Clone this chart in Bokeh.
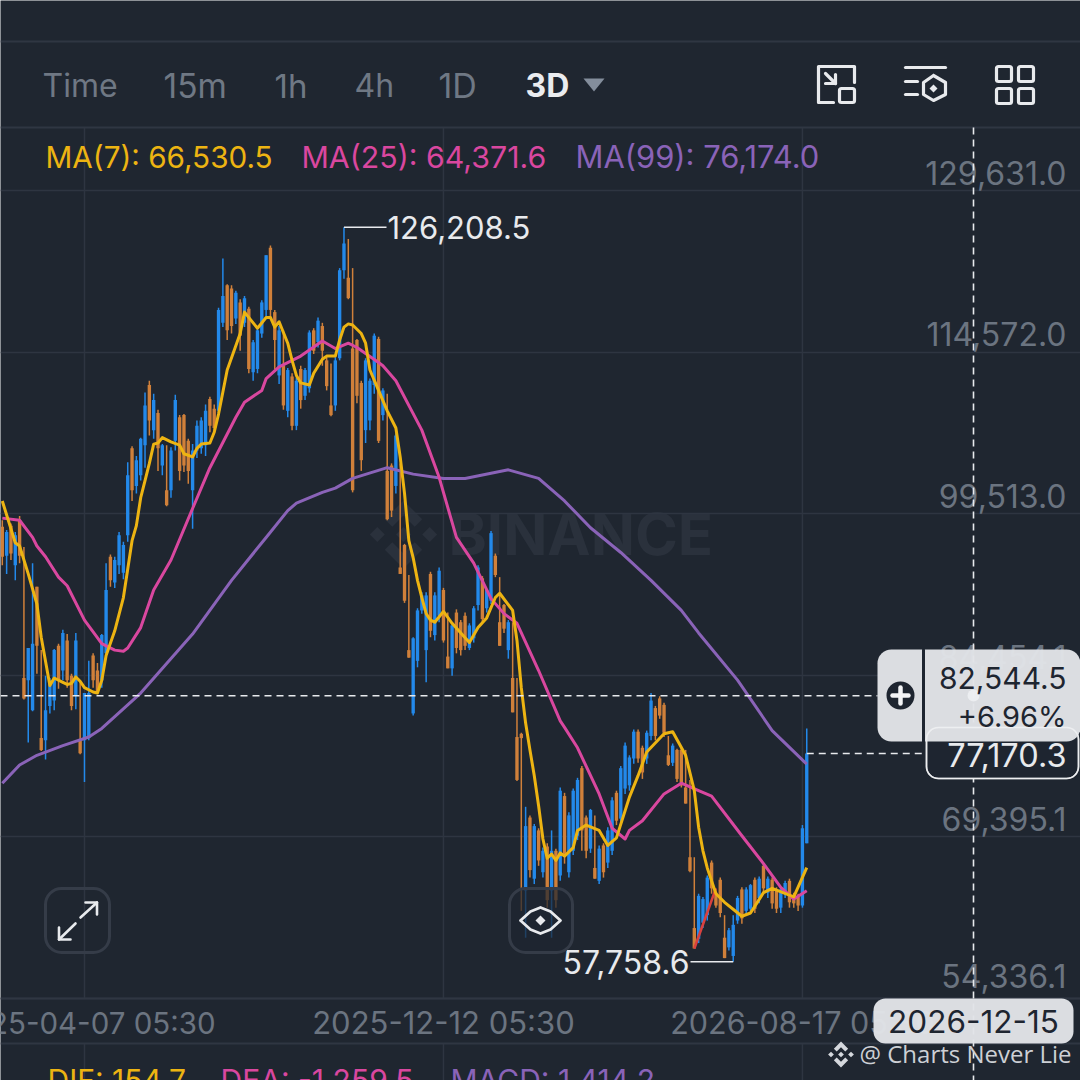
from bokeh.plotting import figure
from bokeh.models import Range1d, FixedTicker, Span, BoxAnnotation
from bokeh.core.properties import value
from bokeh.embed import file_html
from bokeh.resources import INLINE

# ---- chart data (prices in thousands) ----
candle_open = [98.3,95.6,98.4,94.7,98.9,84.2,84.0,81.2,92.7,78.6,
78.4,81.6,82.1,87.2,84.9,87.7,84.4,82.6,78.4,78.4,
78.6,86.3,84.9,84.0,86.5,95.5,93.1,94.7,94.0,97.5,
105.6,102.1,103.1,105.9,111.5,107.3,108.9,104.0,101.7,101.7,
106.3,108.5,108.7,106.3,101.7,105.4,105.6,105.9,110.2,109.3,
109.1,117.3,120.8,120.5,117.7,119.2,117.3,118.6,112.7,113.0,
116.3,118.5,124.3,118.3,112.4,113.3,109.1,112.3,107.7,113.0,
110.5,111.2,116.6,115.5,117.0,113.8,109.6,109.6,114.0,122.2,
121.5,114.9,115.7,111.7,107.3,108.2,111.5,115.8,108.7,103.5,
104.0,102.1,94.5,96.6,86.8,80.9,85.8,90.5,86.8,93.9,
88.2,90.0,92.4,86.2,85.1,90.3,89.4,90.0,87.0,87.9,
91.0,93.5,90.7,91.4,95.6,89.4,91.0,86.8,84.2,78.7,
79.0,64.4,71.2,65.5,70.0,66.1,68.5,64.4,68.1,65.8,
73.2,66.1,68.1,69.5,75.8,71.2,68.3,66.5,65.3,68.6,
67.0,68.1,73.5,71.1,73.9,74.2,76.7,79.2,77.7,76.7,
78.8,81.4,82.3,81.7,77.0,76.3,77.5,77.5,74.0,67.5,
60.9,59.9,61.4,62.1,67.0,64.2,65.4,60.0,59.1,58.3,
61.6,64.5,62.5,62.7,65.4,63.7,66.7,64.2,65.4,64.5,
62.8,64.1,65.3,64.0,63.9,63.0,68.8]
candle_high = [98.9,98.0,98.6,97.8,99.3,96.4,87.0,94.9,92.7,86.8,
84.4,84.2,86.9,87.4,88.7,88.3,84.6,88.4,84.0,82.8,
85.8,86.5,85.6,88.3,94.9,95.7,95.5,97.8,96.9,104.3,
105.8,104.9,106.6,110.8,111.9,110.7,109.2,106.0,105.9,105.7,
110.6,108.7,108.8,106.5,106.0,108.2,108.5,109.7,110.4,109.7,
118.7,123.3,120.9,120.8,120.3,119.5,119.8,118.8,115.7,116.8,
119.4,123.6,124.5,118.5,117.0,116.6,113.1,112.6,112.2,113.3,
113.1,116.6,116.8,117.8,117.3,114.1,113.5,114.1,122.4,126.2,
125.1,122.4,115.8,111.9,114.0,112.1,116.3,116.0,111.2,110.7,
104.2,107.0,104.2,96.7,93.8,88.0,90.7,92.2,92.2,94.1,
92.2,94.5,92.6,90.3,89.3,90.6,89.6,90.3,89.3,90.9,
94.7,93.7,92.5,97.9,95.8,93.6,91.1,89.6,89.4,84.2,
79.1,72.2,71.4,70.6,70.2,68.4,68.8,70.0,68.3,74.0,
73.5,71.7,73.9,74.9,76.0,71.4,72.0,71.4,68.6,68.8,
70.3,73.1,73.7,76.0,78.2,77.0,79.4,79.4,77.9,79.3,
82.8,81.6,82.5,81.9,78.8,78.1,77.6,77.7,77.5,74.7,
67.5,64.1,63.8,65.8,67.2,64.4,65.6,62.1,60.9,62.1,
63.9,64.7,64.7,65.0,65.6,65.7,66.9,65.7,65.6,64.7,
64.7,65.3,65.5,64.2,64.1,70.5,79.5]
candle_low = [94.7,93.9,95.2,93.3,94.9,82.2,78.2,81.1,84.6,77.4,
76.6,80.9,81.2,83.2,84.0,83.3,81.2,81.3,77.1,74.5,
78.4,83.3,82.8,83.3,86.4,92.7,92.6,93.9,93.4,96.9,
100.7,101.4,102.6,103.8,106.8,106.5,103.5,103.1,100.2,101.0,
105.4,102.6,103.4,102.3,98.1,104.7,105.1,104.9,107.1,107.3,
108.8,116.9,115.7,116.3,117.2,114.7,116.9,112.6,111.9,112.6,
115.9,117.8,117.7,113.0,111.6,109.2,108.5,107.3,107.3,109.3,
110.1,110.8,114.4,115.0,113.3,111.0,108.6,109.1,113.8,121.4,
119.5,101.5,109.8,103.5,106.1,107.3,110.7,106.1,108.2,98.9,
99.2,101.4,93.9,91.2,86.1,80.7,85.2,90.2,83.8,88.0,
87.7,89.4,87.5,85.1,84.4,86.5,86.3,86.8,86.8,87.5,
90.5,89.4,90.3,91.1,93.6,87.2,88.4,86.0,81.0,74.6,
62.5,60.0,65.6,65.0,66.7,65.6,62.8,60.0,62.8,65.3,
66.9,65.6,67.7,69.1,68.1,67.4,67.9,65.5,65.0,65.6,
66.5,67.7,70.5,70.6,73.4,73.7,76.2,76.3,74.8,76.2,
78.4,78.4,80.4,78.7,76.0,76.0,74.5,74.0,72.5,66.1,
59.0,59.5,60.9,61.6,64.1,62.8,61.9,58.1,58.8,57.76,
61.3,61.3,62.1,62.3,62.3,63.2,64.1,63.7,62.7,62.3,
62.3,63.7,62.8,62.8,62.5,62.8,68.8]
candle_close = [95.5,97.8,95.8,97.5,95.6,82.3,87.0,87.4,87.2,77.5,
81.2,84.0,86.8,84.0,88.4,84.0,81.6,87.7,77.2,82.8,
82.8,84.0,83.0,88.2,92.4,93.3,95.2,97.5,96.6,103.1,
101.7,104.5,106.5,109.6,108.2,110.1,105.6,105.9,100.3,105.4,
110.1,103.5,104.0,103.5,105.4,107.7,108.2,109.1,107.7,107.5,
118.5,119.8,116.6,117.0,120.1,116.1,119.6,113.0,115.5,116.6,
119.2,123.6,118.5,115.7,116.6,109.6,112.9,107.7,111.9,110.1,
112.9,116.4,114.7,117.5,114.7,111.4,108.7,113.8,122.2,124.7,
119.6,101.7,110.5,104.5,113.8,111.9,116.1,106.3,111.0,99.0,
99.8,106.8,93.9,91.4,86.1,87.9,90.5,91.9,91.9,88.6,
91.9,94.2,87.7,85.1,89.1,87.0,86.8,87.2,89.1,90.7,
94.5,89.7,92.4,97.7,93.8,87.2,88.8,89.4,81.0,74.7,
78.6,70.4,66.3,70.4,67.2,68.1,63.5,68.1,63.5,73.7,
67.7,71.4,73.7,74.7,70.0,68.1,71.9,65.5,68.3,66.1,
70.0,72.8,70.9,75.8,77.9,76.8,79.2,76.7,75.4,79.1,
82.1,78.8,80.7,79.1,76.1,77.9,74.8,74.2,72.5,66.2,
59.0,63.9,63.6,65.6,64.6,63.0,62.3,58.1,60.7,61.2,
63.7,61.8,64.5,64.9,62.7,65.5,64.6,65.5,63.2,62.7,
64.5,65.1,63.3,63.2,63.0,70.2,77.17]

ma7_k = [0,3,4,6,8,9,11,12,14,15,16,17,18,19,21,22,23,24,26,28,30,31,32,33,34,35,36,37,39,41,42,44,45,46,48,49,50,52,55,56,58,59,61,62,63,64,65,66,67,68,69,71,72,74,75,77,78,79,80,81,83,84,85,87,89,91,92,93,94,95,96,97,98,99,100,102,104,108,110,112,114,115,118,119,120,121,122,123,124,125,126,127,128,129,130,132,133,135,138,140,142,145,147,149,153,155,158,160,161,162,163,165,166,167,171,173,176,178,183,186]
ma7_v = [100.7,96.8,96.5,93.9,91.1,88.0,83.5,84.2,83.8,83.6,83.7,84.3,83.9,83.3,82.9,82.8,84.0,86.3,88.6,91.7,97.0,98.4,101.0,102.6,104.2,106.0,106.1,106.6,106.2,105.9,105.1,104.8,105.6,106.0,106.1,107.1,108.8,112.9,116.3,118.3,117.3,116.8,117.8,117.8,116.9,117.4,116.4,115.4,113.8,112.4,111.7,111.5,112.6,113.9,114.2,114.2,115.7,116.9,117.2,117.1,116.3,115.4,112.9,111.0,109.1,107.5,104.8,101.4,97.0,95.4,93.3,91.7,90.2,89.6,89.4,90.4,89.3,87.5,88.9,89.8,91.7,92.1,90.5,87.7,83.3,80.0,77.5,75.1,72.3,69.2,67.4,67.8,67.2,67.9,67.6,68.4,70.0,70.5,70.0,68.6,69.3,73.1,75.1,77.3,79.0,79.2,77.0,73.7,70.3,68.1,66.5,64.1,63.7,63.3,62.0,62.3,64.2,64.6,63.8,66.53]
ma25_k = [0,4,7,8,10,13,15,19,23,26,28,29,32,35,39,44,48,54,56,60,61,64,69,74,77,80,82,87,88,91,97,101,105,109,113,116,119,124,129,130,133,138,141,144,145,148,153,157,161,164,171,176,180,183,186]
ma25_v = [99.1,98.9,97.3,96.5,95.5,93.6,92.8,89.6,87.4,86.8,86.7,87.0,88.9,92.4,95.2,100.0,103.8,108.5,109.9,111.0,112.1,113.2,114.2,115.6,114.9,115.4,115.0,113.6,113.3,111.9,107.3,102.9,97.3,94.9,91.6,90.2,89.3,84.9,80.2,79.6,77.7,73.4,70.2,69.2,70.0,70.9,73.4,74.4,73.7,73.2,69.5,66.9,64.7,63.6,64.37]
ma99_k = [0,4,8,14,20,23,32,44,53,61,66,68,74,77,81,89,95,102,107,117,124,130,136,143,150,157,161,170,178,186]
ma99_v = [74.4,76.1,77.0,77.9,78.7,79.5,82.8,88.3,93.3,97.3,99.8,100.5,101.5,101.9,102.8,103.8,103.2,102.8,102.8,103.6,102.8,100.7,98.2,95.9,93.3,90.5,88.4,84.0,79.3,76.17]
red_k = [160,165]
red_v = [59.0,64.6]

price_ticks = [129631.0,114572.0,99513.0,84454.1,69395.1,54336.1]
time_k = [19,102,185]
time_labels = ["2025-04-07 05:30","2025-12-12 05:30","2026-08-17 05:30"]
tabs = ["Time","15m","1h","4h","1D"]
tab_px = [42,163,274,354,438]
legend_top = ["MA(7): 66,530.5","MA(25): 64,371.6","MA(99): 76,174.0"]
legend_bottom = ["DIF: 154.7","DEA: -1,259.5","MACD: 1,414.2"]
high_label = "126,208.5"
low_label = "57,758.6"
high_value, high_k = 126208.5, 79
low_value, low_k = 57758.6, 169
cross_price = 82544.5
last_price = 77170.3

# ---- colours ----
BG="#1f2630"; GRID="#2e3541"; SEP="#2f3642"
BLUE="#2389ea"; ORANGE="#d0803a"
YEL="#edb412"; PINK="#d9479f"; PUR="#8a63b8"
AXT="#6b7480"; TAGBG="#e1e3e7"; LIGHT="#e8eaed"; DARK="#1e2530"
FONT=value("Inter")
FS="31px"

# mapping of page pixels to the data ranges (used for the interface furniture)
PX_PER_K=4.325; K0_PX=1.8
P0=147336.0; PER_PX=93.187
def X(px): return (px-K0_PX)/PX_PER_K
def Y(py): return P0-PER_PX*py

p=figure(width=1080,height=1080,output_backend="svg",toolbar_location=None,
         x_range=Range1d(X(0),X(1080)),y_range=Range1d(Y(1080),Y(0)),
         background_fill_color=BG,border_fill_color=BG,min_border=0,outline_line_color=None)
p.xaxis.visible=False; p.yaxis.visible=False
p.xgrid.visible=False
p.ygrid.ticker=FixedTicker(ticks=price_ticks)
p.ygrid.grid_line_color=GRID; p.ygrid.grid_line_width=1.5

for py in (41,127,998,1043):
    p.add_layout(Span(location=Y(py),dimension="width",line_color=SEP,line_width=2,level="underlay"))
p.segment(time_k,[Y(127)]*3,time_k,[Y(998)]*3,line_color=GRID,line_width=1.5,level="underlay")
p.segment(time_k,[Y(1043)]*3,time_k,[Y(1080)]*3,line_color=GRID,line_width=1.5,level="underlay")

def logo(cx,cy,s,color,level):
    shapes=[[(0,-1),(.55,-.45),(.33,-.23),(0,-.56),(-.33,-.23),(-.55,-.45)],
            [(0,1),(.55,.45),(.33,.23),(0,.56),(-.33,.23),(-.55,.45)]]
    for dx in (-.77,0,.77):
        shapes.append([(dx-.22,0),(dx,-.22),(dx+.22,0),(dx,.22)])
    p.patches([[X(cx+a*s) for a,b in sh] for sh in shapes],
              [[Y(cy+b*s) for a,b in sh] for sh in shapes],
              fill_color=color,line_color=None,level=level)

# watermark
logo(403,534,34,"#2a313c","underlay")
p.text([X(448)],[Y(533)],text=["BINANCE"],text_font=FONT,text_font_size="58px",text_font_style="bold",
       text_color="#2a313c",text_baseline="middle",level="underlay")

# candles
ks=list(range(len(candle_open)))
for cond,col in ((lambda o,c:c>=o,BLUE),(lambda o,c:c<o,ORANGE)):
    idx=[i for i in ks if cond(candle_open[i],candle_close[i])]
    p.segment(idx,[candle_high[i]*1000 for i in idx],idx,[candle_low[i]*1000 for i in idx],
              line_color=col,line_width=1.5)
    p.vbar(x=idx,width=0.78,top=[max(candle_open[i],candle_close[i])*1000 for i in idx],
           bottom=[min(candle_open[i],candle_close[i])*1000 for i in idx],fill_color=col,line_color=None)

# moving averages
p.line(ma99_k,[v*1000 for v in ma99_v],line_color=PUR,line_width=3,line_join="round")
p.line(ma25_k,[v*1000 for v in ma25_v],line_color=PINK,line_width=3,line_join="round")
p.line(red_k,[v*1000 for v in red_v],line_color="#d8413f",line_width=2.6)
p.line(ma7_k,[v*1000 for v in ma7_v],line_color=YEL,line_width=3,line_join="round")

# price axis labels (sit above their grid lines)
for v,off in zip(price_ticks,(17,18,18,18,18,22)):
    p.text([X(1066)],[v+PER_PX*off],text=[f"{v:,.1f}"],
       text_font=FONT,text_font_size="32px",text_color=AXT,text_align="right",text_baseline="middle")
# time axis labels
for k,t,s in zip(time_k,time_labels,("29.5px","31px","30.5px")):
    p.text([k],[Y(1022)],text=[t],text_font=FONT,text_font_size=s,text_color=AXT,
       text_align="center",text_baseline="middle")

# high / low marks
p.line([high_k,X(386)],[high_value,high_value],line_color=LIGHT,line_width=1.5)
p.text([X(387)],[high_value],text=[high_label],text_font=FONT,text_font_size=FS,text_color=LIGHT,text_baseline="middle")
p.line([X(690),low_k+0.0],[low_value,low_value],line_color=LIGHT,line_width=1.5)
p.text([X(689)],[low_value],text=[low_label],text_font=FONT,text_font_size="32px",text_color=LIGHT,text_align="right",text_baseline="middle")

# cross-hair & last price lines
p.line([X(0),X(877)],[cross_price,cross_price],line_color=LIGHT,line_width=1.6,line_dash="7 5")
p.line([X(973),X(973)],[Y(127),Y(1080)],line_color=LIGHT,line_width=1.6,line_dash="7 5")
p.line([186,X(926)],[last_price,last_price],line_color=LIGHT,line_width=1.6,line_dash="7 5")

# header
for t,px,s in zip(tabs,tab_px,("32px","33.5px","33px","32px","34px")):
    p.text([X(px)],[Y(85)],text=[t],text_font=FONT,text_font_size=s,text_color="#6f7884",text_baseline="middle")
p.text([X(525)],[Y(85)],text=["3D"],text_font=FONT,text_font_size="32px",text_font_style="bold",text_color="#eaecef",text_baseline="middle")
p.patch([X(583),X(604),X(593.5)],[Y(78),Y(78),Y(91)],fill_color="#848e9c",line_color=None)
for t,px,c,s in zip(legend_top,(45,301,575),(YEL,PINK,PUR),("29.7px","30.3px","30.9px")):
    p.text([X(px)],[Y(156)],text=[t],text_font=FONT,text_font_size=s,text_color=c,text_baseline="middle")
for t,px,c in zip(legend_bottom,(47,220,450),(YEL,PINK,PUR)):
    p.text([X(px)],[Y(1079)],text=[t],text_font=FONT,text_font_size="30px",text_color=c,text_baseline="middle")

# header icons
ICON="#e8eaed"
def stroke(pts,w=3.2,color=ICON,level="glyph"):
    p.line([X(a) for a,b in pts],[Y(b) for a,b in pts],line_color=color,line_width=w,line_join="round",line_cap="round",level=level)
def rbox(l,t,r,b,radius,fill=None,falpha=1.0,line=None,lw=0,lalpha=1.0):
    p.add_layout(BoxAnnotation(left=X(l),right=X(r),top=Y(t),bottom=Y(b),border_radius=radius,
        fill_color=fill,fill_alpha=falpha if fill else 0,line_color=line,line_width=lw,line_alpha=lalpha if line else 0))
stroke([(833,102),(818,102),(818,66),(854,66),(854,82)])
stroke([(825,73),(835,83)]); stroke([(835,74),(835,83),(825,83)])
rbox(839,88,854,102,2,line=ICON,lw=3.2)
stroke([(905,67),(945,67)]); stroke([(905,81),(917,81)]); stroke([(905,94),(917,94)])
stroke([(933,75),(945,82),(945,94),(933,100),(923,94),(923,82),(933,75)])
p.patch([X(929),X(933),X(937),X(933)],[Y(88),Y(84),Y(88),Y(92)],fill_color=ICON,line_color=None)
for l in (996,1018):
    for t in (66,88):
        rbox(l,t,l+15,t+15,2,line=ICON,lw=3.2)

# floating buttons
rbox(45,888,109,952,16,line="#353c48",lw=3)
stroke([(80,917),(96.5,902)],2.6); stroke([(85,902),(96.5,902),(96.5,914)],2.6)
stroke([(75,923),(58.5,939)],2.6); stroke([(58.5,927),(58.5,939),(70,939)],2.6)
rbox(509,888,572,952,16,fill=BG,falpha=0.72,line="#353c48",lw=3)
stroke([(520,920),(530,911),(540,907),(550,911),(560,920),(550,929),(540,933),(530,929),(520,920)],2.8,level="overlay")
p.patch([X(535),X(540),X(545),X(540)],[Y(920),Y(915),Y(920),Y(925)],fill_color=ICON,line_color=None,level="overlay")

# tags
rbox(926,727,1078,778,12,fill=DARK,line="#dfe1e5",lw=1.6)
rbox(877,649,1080,741,14,fill=TAGBG,falpha=0.97)
rbox(926,727,1078,778,12,line="#f0f1f3",lw=1.6,lalpha=.8)
stroke([(923,649),(923,741)],3,DARK,"overlay")
p.circle([X(900)],[Y(695)],radius=14,radius_units="screen",fill_color=DARK,line_color=None,level="overlay")
stroke([(892,695),(908,695)],4.5,"#f2f3f5","overlay"); stroke([(900,687),(900,703)],4.5,"#f2f3f5","overlay")
p.circle([X(973)],[Y(695)],radius=6,radius_units="screen",fill_color="#f2f3f5",fill_alpha=.75,line_color=None,level="overlay")
p.text([X(1066)],[Y(677)],text=[f"{cross_price:,.1f}"],text_font=FONT,text_font_size="30px",text_color=DARK,text_align="right",text_baseline="middle",level="overlay")
p.text([X(1066)],[Y(716)],text=["+6.96%"],text_font=FONT,text_font_size="29px",text_color=DARK,text_align="right",text_baseline="middle",level="overlay")
p.text([X(1066)],[Y(754)],text=[f"{last_price:,.1f}"],text_font=FONT,text_font_size="32.5px",text_color=LIGHT,text_align="right",text_baseline="middle",level="overlay")
rbox(873,998,1073,1043,12,fill=TAGBG,falpha=0.97)
p.text([X(973)],[Y(1021)],text=["2026-12-15"],text_font=FONT,text_font_size="31.5px",text_color=DARK,text_align="center",text_baseline="middle",level="overlay")

# signature
logo(840.5,1054,13,"#d5d8dd","overlay")
p.text([X(859)],[Y(1053)],text=["@ Charts Never Lie"],text_font=value("Open Sans"),text_font_size="24px",text_color="#cdd0d5",text_baseline="middle",level="overlay")

open("out.html","w").write(file_html(p,INLINE))
